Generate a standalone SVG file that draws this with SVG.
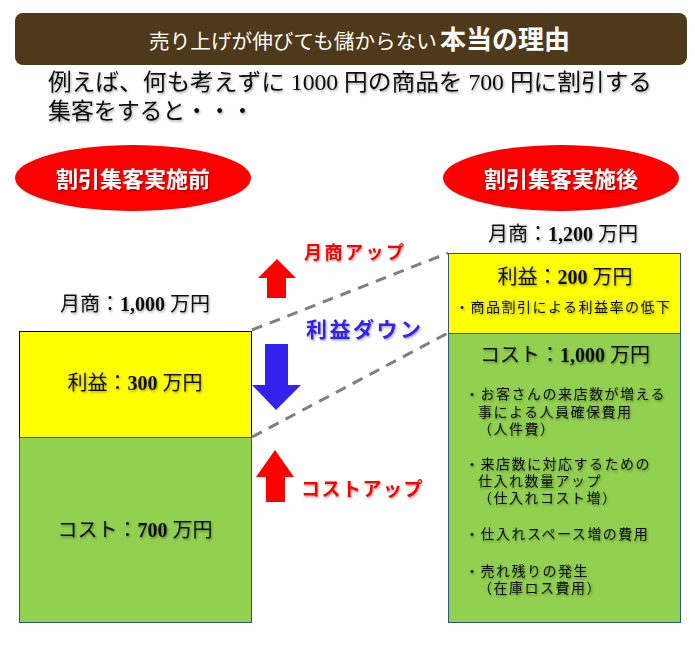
<svg xmlns="http://www.w3.org/2000/svg" width="695" height="649" viewBox="0 0 695 649">
<defs>
<style>
.serif{font-family:"Liberation Serif","Noto Sans CJK JP",serif;}
.sans{font-family:"Noto Sans CJK JP","Liberation Sans",sans-serif;font-weight:bold;}
.lbl{font-size:20px;fill:#111;text-anchor:middle;}
.bul{font-size:14px;fill:#111;letter-spacing:1.5px;}
.sh{filter:url(#ds);}
.dash{stroke:#7f7f7f;stroke-width:3;stroke-dasharray:11 8;fill:none;}
</style>
<filter id="ds" x="-10%" y="-20%" width="120%" height="150%">
<feDropShadow dx="1" dy="1.5" stdDeviation="1" flood-color="#000" flood-opacity="0.35"/>
</filter>
</defs>
<rect width="695" height="649" fill="#fff"/>

<g id="title">
<rect x="15" y="13" width="672" height="52" rx="8" fill="#4e3a1b"/>
<text class="serif" x="149" y="49" fill="#fff" font-size="20" textLength="288" lengthAdjust="spacingAndGlyphs">売り上げが伸びても儲からない</text>
<text class="serif" x="440" y="49" fill="#fff" font-size="26" font-weight="bold" textLength="130" lengthAdjust="spacingAndGlyphs">本当の理由</text>
</g>

<g id="subtitle" class="serif sh" fill="#111" font-size="23">
<text x="48" y="90" textLength="604" lengthAdjust="spacingAndGlyphs">例えば、何も考えずに 1000 円の商品を 700 円に割引する</text>
<text x="48" y="119" textLength="206" lengthAdjust="spacingAndGlyphs">集客をすると・・・</text>
</g>

<g id="before-label">
<ellipse cx="133" cy="178" rx="118" ry="33" fill="#ff0000"/>
<text class="serif sh" x="133" y="187" fill="#fff" font-size="22" font-weight="bold" text-anchor="middle">割引集客実施前</text>
</g>

<g id="after-label">
<ellipse cx="561" cy="178" rx="118" ry="33" fill="#ff0000"/>
<text class="serif sh" x="561" y="187" fill="#fff" font-size="22" font-weight="bold" text-anchor="middle">割引集客実施後</text>
</g>

<g id="before-sales">
<text class="serif lbl sh" x="135" y="311">月商：<tspan font-weight="bold">1,000</tspan> 万円</text>
</g>

<g id="after-sales">
<text class="serif lbl sh" x="563" y="241">月商：<tspan font-weight="bold">1,200</tspan> 万円</text>
</g>

<g id="before-profit">
<rect x="19.5" y="331.5" width="232" height="106" fill="#ffff00" stroke="#000" stroke-width="1"/>
<text class="serif lbl sh" x="135" y="390">利益：<tspan font-weight="bold">300</tspan> 万円</text>
</g>

<g id="before-cost">
<rect x="19.5" y="437.5" width="232" height="185" fill="#92d050" stroke="#2f528f" stroke-width="1"/>
<text class="serif lbl sh" x="135" y="537">コスト：<tspan font-weight="bold">700</tspan> 万円</text>
</g>

<g id="after-profit">
<rect x="448.5" y="253.5" width="232" height="80" fill="#ffff00" stroke="#2f528f" stroke-width="1"/>
<text class="serif lbl sh" x="565" y="284">利益：<tspan font-weight="bold">200</tspan> 万円</text>
<text class="serif bul sh" x="455" y="312" letter-spacing="1">・商品割引による利益率の低下</text>
</g>

<g id="after-cost">
<rect x="448.5" y="333.5" width="232" height="289" fill="#92d050" stroke="#2f528f" stroke-width="1"/>
<text class="serif lbl sh" x="565" y="362">コスト：<tspan font-weight="bold">1,000</tspan> 万円</text>
<g class="serif bul sh">
<text x="465" y="399">・お客さんの来店数が増える</text>
<text x="478" y="417">事による人員確保費用</text>
<text x="478" y="434">（人件費）</text>
<text x="465" y="469">・来店数に対応するための</text>
<text x="478" y="486">仕入れ数量アップ</text>
<text x="478" y="503">（仕入れコスト増）</text>
<text x="465" y="539">・仕入れスペース増の費用</text>
<text x="465" y="576">・売れ残りの発生</text>
<text x="478" y="593">（在庫ロス費用）</text>
</g>
</g>

<g id="connectors">
<line class="dash" x1="252" y1="330" x2="448" y2="253"/>
<line class="dash" x1="252" y1="437" x2="448" y2="333"/>
</g>

<g id="sales-up">
<polygon points="277,259 296,278 286,278 286,298 267,298 267,278 258,278" fill="#ff0000"/>
<text class="sans sh" x="304" y="259" fill="#ff0000" font-size="18" letter-spacing="2.5">月商アップ</text>
</g>

<g id="profit-down">
<polygon points="265,344 288,344 288,385 301,385 276,410 252,385 265,385" fill="#3322ee"/>
<text class="sans sh" x="306" y="337" fill="#3322ee" font-size="21" letter-spacing="2.5">利益ダウン</text>
</g>

<g id="cost-up">
<polygon points="275,450 294,477 285,477 285,502 266,502 266,477 256,477" fill="#ff0000"/>
<text class="sans sh" x="301" y="496" fill="#ff0000" font-size="19" letter-spacing="1.5">コストアップ</text>
</g>
</svg>
